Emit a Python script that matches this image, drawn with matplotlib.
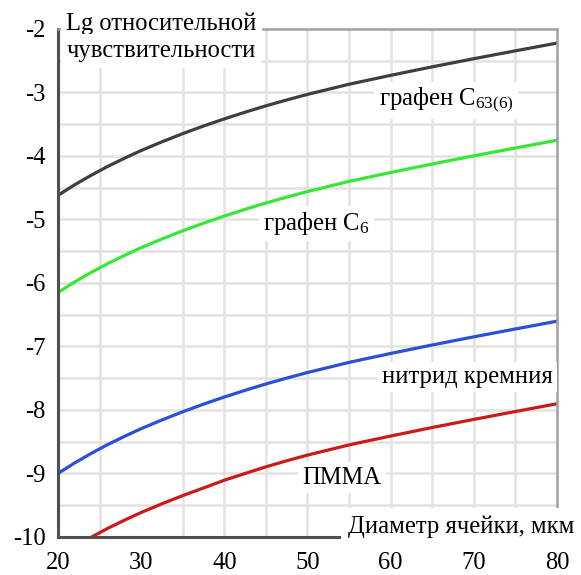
import matplotlib
matplotlib.use("Agg")
import matplotlib.pyplot as plt
from matplotlib.lines import Line2D

plt.rcParams['font.family'] = ['Liberation Serif', 'DejaVu Serif']
plt.rcParams['mathtext.fontset'] = 'custom'
plt.rcParams['mathtext.rm'] = 'Liberation Serif'
plt.rcParams['mathtext.it'] = 'Liberation Serif'

# ---- data ----
x_main = [20, 22, 24, 26, 28, 30, 32.5, 35, 37.5, 40, 42.5, 45, 47.5, 50, 55, 60, 65, 70, 75, 80]
graphene_c63 = [-4.620, -4.454, -4.303, -4.163, -4.035, -3.914, -3.777, -3.648, -3.528, -3.416,
                -3.310, -3.210, -3.118, -3.030, -2.870, -2.730, -2.596, -2.468, -2.344, -2.222]
graphene_c6 = [-6.150, -5.984, -5.833, -5.693, -5.565, -5.444, -5.307, -5.178, -5.058, -4.946,
               -4.840, -4.740, -4.648, -4.560, -4.400, -4.260, -4.126, -3.998, -3.874, -3.752]
silicon_nitride = [-9.000, -8.834, -8.683, -8.543, -8.415, -8.294, -8.157, -8.028, -7.908, -7.796,
                   -7.690, -7.590, -7.498, -7.410, -7.250, -7.110, -6.976, -6.848, -6.724, -6.602]
x_pmma = [24, 26, 28, 30, 32.5, 35, 37.5, 40, 42.5, 45, 47.5, 50, 55, 60, 65, 70, 75, 80]
pmma = [-10.003, -9.863, -9.735, -9.614, -9.477, -9.348, -9.228, -9.106, -9.000, -8.895,
        -8.800, -8.710, -8.550, -8.410, -8.276, -8.148, -8.024, -7.902]

x_ticks = [20, 30, 40, 50, 60, 70, 80]
x_tick_labels = ['20', '30', '40', '50', '60', '70', '80']
y_ticks = [-2, -3, -4, -5, -6, -7, -8, -9, -10]
y_tick_labels = ['-2', '-3', '-4', '-5', '-6', '-7', '-8', '-9', '-10']

y_label_lines = ['Lg относительной', 'чувствительности']
x_label = 'Диаметр ячейки, мкм'
labels = ['графен C$_{\\mathrm{63(6)}}$', 'графен C$_{\\mathrm{6}}$', 'нитрид кремния', 'ПММА']

# ---- figure ----
fig = plt.figure(figsize=(5.81, 5.75), dpi=100)
ax = fig.add_axes([0.0998, 0.0661, 0.8589, 0.8835])
ax.set_xlim(20, 80)
ax.set_ylim(-10, -2)

grid_c = '#e2e2e2'
for gx in [25, 35, 40, 45, 50, 55, 60, 65, 70, 75]:
    ax.axvline(gx, color=grid_c, lw=1.8, zorder=0)
for gy in [-2.5, -3, -3.5, -4, -4.5, -5, -5.5, -6, -6.5, -7, -7.5, -8, -8.5, -9, -9.5]:
    ax.axhline(gy, color=grid_c, lw=1.8, zorder=0)

lw = 2.3
ax.plot(x_main, graphene_c63, color='#3e3e3e', lw=lw, zorder=2)
ax.plot(x_main, graphene_c6, color='#36e836', lw=lw, zorder=2)
ax.plot(x_main, silicon_nitride, color='#2b4fd6', lw=lw, zorder=2)
ax.plot(x_pmma, pmma, color='#cc1a1a', lw=lw, zorder=2)

for s in ['top', 'right']:
    ax.spines[s].set_color('#a0a0a0')
    ax.spines[s].set_linewidth(1.8)
for s in ['left', 'bottom']:
    ax.spines[s].set_color('#505050')
    ax.spines[s].set_linewidth(2.2)
ax.spines['bottom'].set_visible(False)
# bottom axis line extends slightly past the right border
ax.add_line(Line2D([0, 1.03], [0, 0], transform=ax.transAxes, color='#505050',
                   lw=2.2, clip_on=False, zorder=5))

fs = 17.7
ax.set_xticks(x_ticks)
ax.set_xticklabels(x_tick_labels)
ax.set_yticks(y_ticks)
ax.set_yticklabels(y_tick_labels)
ax.tick_params(axis='both', length=0, labelsize=fs)
ax.tick_params(axis='x', pad=11)
ax.tick_params(axis='y', pad=9)

box = dict(facecolor='white', edgecolor='none', pad=3)
ax.text(21.0, -2.016, y_label_lines[0], fontsize=fs, va='baseline', ha='left',
        bbox=dict(facecolor='white', edgecolor='none', pad=4), zorder=6, clip_on=False)
ax.text(21.0, -2.44, y_label_lines[1], fontsize=fs, va='baseline', ha='left',
        bbox=dict(facecolor='white', edgecolor='none', pad=4), zorder=6, clip_on=False)
ax.text(54.9, -9.93, x_label, fontsize=fs, va='baseline', ha='left',
        bbox=dict(facecolor='white', edgecolor='none', pad=5), zorder=6, clip_on=False)
ax.text(58.55, -3.20, labels[0], fontsize=fs, va='baseline', ha='left', bbox=box, zorder=4)
ax.text(44.7, -5.17, labels[1], fontsize=fs, va='baseline', ha='left', bbox=box, zorder=4)
ax.text(59.0, -7.57, labels[2], fontsize=fs, va='baseline', ha='left', bbox=box, zorder=4)
ax.text(49.4, -9.16, labels[3], fontsize=fs, va='baseline', ha='left', bbox=box, zorder=4)

fig.savefig('out.png', dpi=100)
